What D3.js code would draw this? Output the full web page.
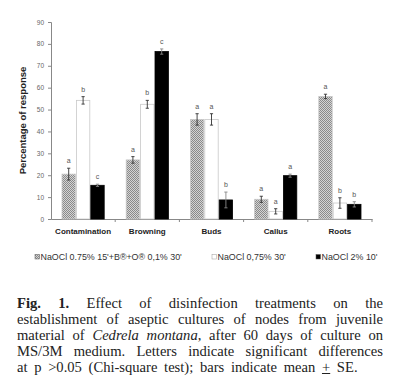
<!DOCTYPE html>
<html>
<head>
<meta charset="utf-8">
<script src="https://cdn.jsdelivr.net/npm/d3@7"></script>
<style>
  body { margin: 0; background: #fff; width: 400px; height: 389px; overflow: hidden; }
  #chart { position: absolute; left: 0; top: 0; }
  #caption {
    position: absolute; left: 17px; top: 295px; width: 366px;
    font-family: "Liberation Serif", "DejaVu Serif", serif;
    font-size: 14.6px; line-height: 16px; color: #222;
  }
  #caption div { text-align: justify; text-align-last: justify; white-space: nowrap; }
  #caption div.last { text-align-last: left; word-spacing: 3px; }
</style>
</head>
<body>
<div id="chart"></div>
<div id="caption">
  <div><b>Fig. 1.</b> Effect of disinfection treatments on the</div>
  <div>establishment of aseptic cultures of nodes from juvenile</div>
  <div>material of <i>Cedrela montana</i>, after 60 days of culture on</div>
  <div>MS/3M medium. Letters indicate significant differences</div>
  <div class="last">at p &gt;0.05 (Chi-square test); bars indicate mean <u>+</u> SE.</div>
</div>
<script>
const categories = ["Contamination", "Browning", "Buds", "Callus", "Roots"];
const seriesNames = ["NaOCl 0.75% 15'+B®+O® 0,1% 30'", "NaOCl 0,75% 30'", "NaOCl 2% 10'"];
const hatchedValues = [20.5, 27, 45.5, 9, 56];
const hatchedErrors = [2.7, 1.5, 2.6, 1.4, 1];
const hatchedLetters = ["a", "a", "a", "a", "a"];
const whiteValues = [54.2, 52.4, 45.5, 3.5, 7.3];
const whiteErrors = [1.7, 1.8, 2.6, 1.2, 2.4];
const whiteLetters = ["b", "b", "a", "a", "b"];
const blackValues = [15.4, 76.5, 8.7, 19.8, 6.7];
const blackErrors = [0.5, 1.2, 3.6, 0.7, 1.2];
const blackLetters = ["c", "c", "b", "a", "b"];
const yTicks = [0, 10, 20, 30, 40, 50, 60, 70, 80, 90];

const series = [
  { name: seriesNames[0], values: hatchedValues, errors: hatchedErrors, letters: hatchedLetters, fill: "url(#checker)", stroke: "#c8c8c8" },
  { name: seriesNames[1], values: whiteValues, errors: whiteErrors, letters: whiteLetters, fill: "#fff", stroke: "#c8c8c8" },
  { name: seriesNames[2], values: blackValues, errors: blackErrors, letters: blackLetters, fill: "#000", stroke: "#000" }
];

const svg = d3.select("#chart").append("svg")
  .attr("width", 400).attr("height", 285)
  .style("font-family", "Liberation Sans, Arial, sans-serif");

const defs = svg.append("defs");
const pat = defs.append("pattern")
  .attr("id", "checker").attr("patternUnits", "userSpaceOnUse")
  .attr("width", 2).attr("height", 2);
pat.append("rect").attr("width", 2).attr("height", 2).attr("fill", "#d4d4d4");
pat.append("rect").attr("width", 1).attr("height", 1).attr("fill", "#8a8a8a");
pat.append("rect").attr("x", 1).attr("y", 1).attr("width", 1).attr("height", 1).attr("fill", "#8a8a8a");

const x = d3.scaleBand().domain(categories).range([51, 372]).paddingInner(0).paddingOuter(0);
const inner = d3.scaleBand().domain(d3.range(3)).range([10.5, x.bandwidth() - 10.5]);
const y = d3.scaleLinear().domain([0, 90]).range([219, 22]);

// y axis
const yAxis = svg.append("g").attr("transform", "translate(51,0)")
  .call(d3.axisLeft(y).tickValues(yTicks).tickSize(3).tickPadding(4));
yAxis.select(".domain").attr("stroke", "#888");
yAxis.selectAll(".tick line").attr("stroke", "#888");
yAxis.selectAll("text").attr("fill", "#666").style("font-size", "6.5px");

// x axis line with separators
const xAxis = svg.append("g").attr("transform", "translate(0,219)")
  .call(d3.axisBottom(x).tickSize(0).tickPadding(9));
xAxis.select(".domain").attr("stroke", "#888");
xAxis.selectAll("text").attr("fill", "#222").style("font-size", "8px").style("font-weight", "bold");
svg.append("g").selectAll("line")
  .data(categories.slice(1).concat(["end"]))
  .join("line")
  .attr("x1", (d, i) => x(categories[0]) + x.bandwidth() * (i + 1))
  .attr("x2", (d, i) => x(categories[0]) + x.bandwidth() * (i + 1))
  .attr("y1", 219).attr("y2", 222)
  .attr("stroke", "#888");

svg.append("text")
  .attr("transform", "translate(26," + y(45) + ") rotate(-90)")
  .attr("text-anchor", "middle")
  .attr("fill", "#222")
  .style("font-size", "9.5px").style("font-weight", "bold")
  .text("Percentage of response");

series.forEach((s, si) => {
  const g = svg.append("g");
  categories.forEach((c, ci) => {
    const bx = x(c) + inner(si);
    const bw = inner.bandwidth();
    const v = s.values[ci], e = s.errors[ci];
    g.append("rect")
      .attr("x", bx + 0.5).attr("y", y(v))
      .attr("width", bw - 1).attr("height", y(0) - y(v))
      .attr("fill", s.fill).attr("stroke", s.stroke).attr("stroke-width", 0.8);
    const cx = bx + bw / 2;
    g.append("line").attr("x1", cx).attr("x2", cx).attr("y1", y(v + e)).attr("y2", y(v - e))
      .attr("stroke", si === 2 ? "#888" : "#333").attr("stroke-width", 0.9);
    [v + e, v - e].forEach(t => {
      g.append("line").attr("x1", cx - 1.6).attr("x2", cx + 1.6).attr("y1", y(t)).attr("y2", y(t))
        .attr("stroke", si === 2 ? "#888" : "#333").attr("stroke-width", 0.9);
    });
    g.append("text")
      .attr("x", cx).attr("y", y(v + e) - 5)
      .attr("text-anchor", "middle").attr("fill", "#555")
      .style("font-size", "7px")
      .text(s.letters[ci]);
  });
});

// legend
const legendX = [35, 212, 316];
const legend = svg.append("g").selectAll("g").data(series).join("g")
  .attr("transform", (d, i) => "translate(" + legendX[i] + ",257)");
legend.append("rect")
  .attr("x", 0).attr("y", -2.5).attr("width", 4.5).attr("height", 4.5)
  .attr("fill", d => d.fill).attr("stroke", (d, i) => i === 1 ? "#999" : "#555").attr("stroke-width", 0.5);
legend.append("text")
  .attr("x", 5.5).attr("y", 3.1)
  .attr("fill", "#333").style("font-size", "8.9px")
  .text(d => d.name);
</script>
</body>
</html>
